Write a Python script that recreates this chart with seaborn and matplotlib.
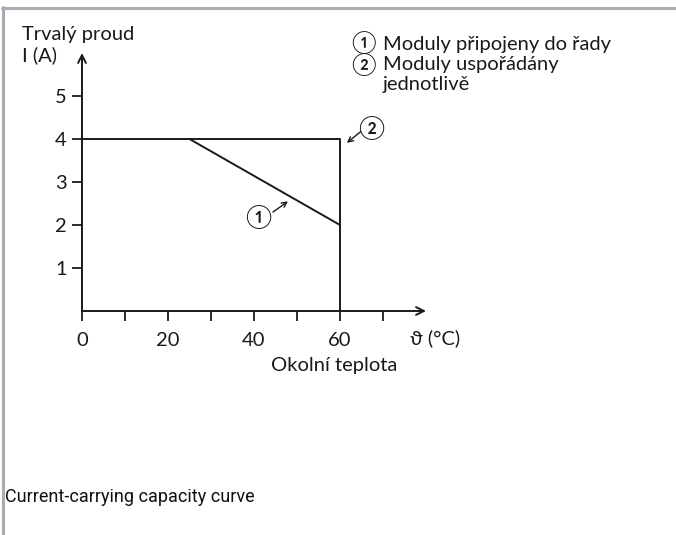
import matplotlib
matplotlib.use("Agg")
import matplotlib.pyplot as plt
from matplotlib.lines import Line2D
import seaborn as sns
import pandas as pd

# --- data ---
# series 2: modules arranged individually (rectangle up to 60 degC)
temp_single = [0, 60, 60]
current_single = [4, 4, 0]
# series 1: modules connected in a row (derating from 25 degC)
temp_row = [25, 60]
current_row = [4, 2]

x_major = [0, 20, 40, 60]
x_minor = [10, 30, 50, 70]
y_major = [1, 2, 3, 4, 5]

legend_marks = ["\u2460", "\u2461"]
legend_lines = ["Moduly připojeny do řady", "Moduly uspořádány", "jednotlivě"]
caption = "Current-carrying capacity curve"

sns.set_theme(style="white")
plt.rcParams['font.family'] = ['Lato', 'DejaVu Sans']

W, H = 676, 535
INK = "#1a1a1a"
fig = plt.figure(figsize=(W / 100, H / 100), dpi=100)


def px(x, y):
    return x / W, 1 - y / H


# axes placed so that 0..80 degC -> 82..426 px and 0..6 A -> 311..53 px
ax = fig.add_axes([82 / W, (H - 311) / H, 344 / W, 258 / H])
ax.set_xlim(0, 80)
ax.set_ylim(0, 6)
ax.patch.set_alpha(0)
for s in ax.spines.values():
    s.set_visible(False)

df_single = pd.DataFrame({"t": temp_single, "i": current_single})
df_row = pd.DataFrame({"t": temp_row, "i": current_row})
sns.lineplot(data=df_single, x="t", y="i", sort=False, estimator=None,
             color=INK, lw=1.4, ax=ax)
sns.lineplot(data=df_row, x="t", y="i", sort=False, estimator=None,
             color=INK, lw=1.4, ax=ax)

# axes with open arrow heads
arrow_kw = dict(arrowstyle="->", color=INK, lw=1.4,
                shrinkA=0, shrinkB=0, mutation_scale=14)
ax.annotate("", xy=(1, 0), xytext=(0, 0), xycoords="axes fraction",
            arrowprops=arrow_kw, annotation_clip=False)
ax.annotate("", xy=(0, 1), xytext=(0, 0), xycoords="axes fraction",
            arrowprops=arrow_kw, annotation_clip=False)

ax.set_xticks(x_major)
ax.set_xticks(x_minor, minor=True)
ax.set_yticks(y_major)
ax.set_xticklabels([str(v) for v in x_major])
ax.set_yticklabels([str(v) for v in y_major])
ax.tick_params(axis="x", which="both", direction="out", length=7, width=1.3,
               color=INK, bottom=True, pad=8, labelsize=14.5, labelcolor=INK)
ax.tick_params(axis="y", which="both", direction="out", length=7, width=1.3,
               color=INK, left=True, pad=4, labelsize=14.5, labelcolor=INK)
ax.set_xlabel("")
ax.set_ylabel("")

# curve markers: circled number plus a small arrow towards the curve
small_arrow = dict(arrowstyle="->", color=INK, lw=1.0,
                   shrinkA=0, shrinkB=0, mutation_scale=9)
ax.text(40.9, 2.19, "\u2460", ha="center", va="center", fontsize=17,
        color=INK)
ax.annotate("", xy=(47.9, 2.55), xytext=(44.4, 2.30), arrowprops=small_arrow)
ax.text(67.2, 4.26, "\u2461", ha="center", va="center", fontsize=17,
        color=INK)
ax.annotate("", xy=(61.6, 3.91), xytext=(64.8, 4.17), arrowprops=small_arrow)

# axis titles
ax.text(76.2, -0.63, "\u03d1 (°C)", ha="left", va="center", fontsize=14.5,
        color=INK, clip_on=False)
ax.text(58.6, -1.26, "Okolní teplota", ha="center", va="center",
        fontsize=14.5, color=INK, clip_on=False)
fig.text(*px(22, 40), "Trvalý proud", ha="left", va="baseline",
         fontsize=14.5, color=INK)
fig.text(*px(22, 61), "I (A)", ha="left", va="baseline", fontsize=14.5,
         color=INK)

# key: circled numbers as one text block, descriptions as another
fig.text(*px(363, 53.5), "\n".join(legend_marks), ha="center", va="center",
         fontsize=16, color=INK, linespacing=0.97)
fig.text(*px(383, 90), "\n".join(legend_lines), ha="left", va="baseline",
         fontsize=14.5, color=INK, linespacing=1.23)

fig.text(*px(5, 502), caption, ha="left", va="baseline", fontsize=13,
         color="#111111", family=["Roboto", "DejaVu Sans"])

# grey frame on the top and left edges
fig.add_artist(Line2D([px(2, 0)[0], 1], [px(0, 8)[1]] * 2, color="#a9acb1",
                      lw=2.2))
fig.add_artist(Line2D([px(3, 0)[0]] * 2, [px(0, 7)[1], 0], color="#a9acb1",
                      lw=2.2))

fig.savefig("out.png", dpi=100)
